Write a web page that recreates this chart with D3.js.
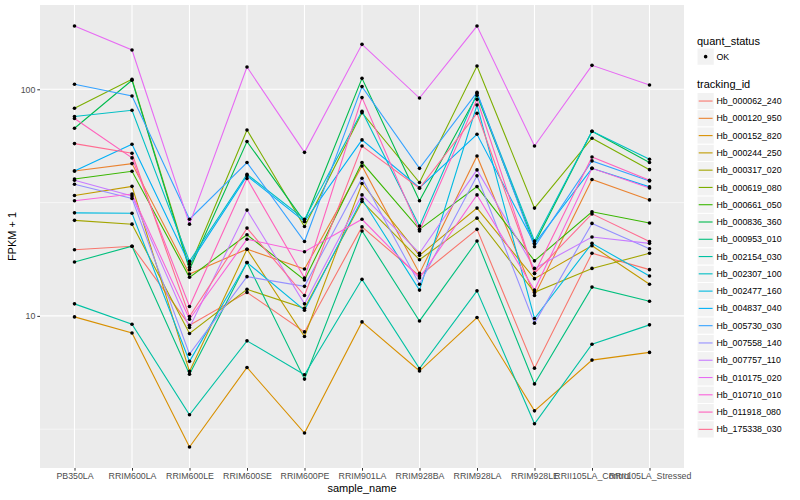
<!DOCTYPE html>
<html>
<head>
<meta charset="utf-8">
<script src="https://cdn.jsdelivr.net/npm/d3@7"></script>
<style>
  body { margin: 0; background: #fff; }
  text { font-family: "Liberation Sans", Arial, Helvetica, sans-serif; }
</style>
</head>
<body>
<svg id="chart" width="800" height="500"></svg>
<script>
// sample columns along the x axis
const samples = ['PB350LA', 'RRIM600LA', 'RRIM600LE', 'RRIM600SE', 'RRIM600PE', 'RRIM901LA',
    'RRIM928BA', 'RRIM928LA', 'RRIM928LE', 'RRII105LA_Control', 'RRII105LA_Stressed']

const trackingIds = ['Hb_000062_240', 'Hb_000120_950', 'Hb_000152_820', 'Hb_000244_250',
    'Hb_000317_020', 'Hb_000619_080', 'Hb_000661_050', 'Hb_000836_360', 'Hb_000953_010',
    'Hb_002154_030', 'Hb_002307_100', 'Hb_002477_160', 'Hb_004837_040', 'Hb_005730_030',
    'Hb_007558_140', 'Hb_007757_110', 'Hb_010175_020', 'Hb_010710_010', 'Hb_011918_080',
    'Hb_175338_030']

// FPKM + 1, one row per tracking id, one value per sample
const fpkm = [
    [19.6, 20.3, 9.10, 12.7, 8.50, 24.7, 15.0, 24.1, 5.88, 18.9, 16.0],
    [43.6, 47.0, 15.3, 19.7, 16.1, 45.9, 15.4, 50.8, 12.3, 40.0, 32.5],
    [9.90, 8.41, 2.64, 5.92, 3.04, 9.41, 5.71, 9.84, 3.81, 6.38, 6.90],
    [34.0, 37.3, 5.69, 19.7, 8.11, 38.4, 18.5, 29.9, 14.6, 20.4, 13.8],
    [26.4, 25.4, 8.36, 13.1, 10.8, 32.0, 17.7, 27.0, 12.7, 16.2, 18.9],
    [82.5, 110.7, 16.4, 66.1, 24.8, 78.9, 38.8, 126.7, 29.9, 60.8, 44.2],
    [40.2, 43.5, 14.8, 22.8, 14.4, 47.5, 24.1, 37.2, 17.5, 28.8, 25.7],
    [67.3, 109.6, 16.0, 58.8, 26.1, 111.8, 32.2, 94.1, 20.8, 65.3, 47.5],
    [17.3, 20.3, 5.53, 17.2, 5.26, 23.7, 9.50, 21.4, 5.01, 13.4, 11.6],
    [11.3, 9.19, 3.66, 7.76, 5.50, 14.5, 5.86, 12.9, 3.34, 7.50, 9.13],
    [75.8, 80.8, 17.4, 42.2, 26.7, 80.0, 24.9, 96.0, 21.4, 65.3, 49.1],
    [28.5, 28.4, 6.30, 17.2, 10.6, 32.7, 13.0, 85.2, 9.74, 20.9, 15.0],
    [43.6, 57.2, 16.9, 41.5, 26.1, 59.8, 36.8, 63.3, 20.8, 44.8, 37.1],
    [105.2, 93.4, 26.7, 47.5, 21.3, 102.8, 44.8, 97.0, 20.2, 48.3, 39.4],
    [38.1, 33.0, 6.78, 14.9, 13.5, 40.5, 13.8, 41.5, 9.29, 25.6, 19.8],
    [39.7, 33.8, 8.89, 29.3, 11.3, 34.2, 18.9, 44.1, 16.2, 22.3, 20.9],
    [190.2, 149.1, 25.4, 125.4, 52.7, 157.9, 91.5, 190.2, 56.2, 127.6, 104.5],
    [32.2, 34.5, 9.67, 21.8, 19.2, 26.7, 14.7, 34.2, 13.0, 44.8, 36.7],
    [74.3, 49.8, 11.0, 40.4, 14.7, 91.9, 23.7, 90.3, 15.4, 50.3, 39.7],
    [57.6, 52.2, 9.94, 24.4, 12.3, 56.2, 36.6, 78.4, 15.4, 28.2, 21.3]
]

const majorTicks = [10, 100]
const minorTicks = [Math.sqrt(10), Math.sqrt(1000)]
const quantStatus = ['OK']

// ggplot default hue palette for 20 levels
const hue = ['#F8766D', '#EA8331', '#D89000', '#C09B00', '#A3A500', '#7CAE00', '#39B600',
    '#00BB4E', '#00BF7D', '#00C1A3', '#00BFC4', '#00BAE0', '#00B0F6', '#35A2FF', '#9590FF',
    '#C77CFF', '#E76BF3', '#FA62DB', '#FF62BC', '#FF6C91']

const panel = { left: 40, right: 684, top: 5, bottom: 468 }
const svg = d3.select('#chart')

const colour = d3.scaleOrdinal().domain(trackingIds).range(hue)

const x = d3.scalePoint()
    .domain(samples)
    .range([panel.left, panel.right])
    .padding(0.6)

// log scale with ggplot's 5% expansion
const all = fpkm.flat()
const lo = Math.log10(d3.min(all))
const hi = Math.log10(d3.max(all))
const pad = (hi - lo) * 0.05
const y = d3.scaleLog()
    .domain([Math.pow(10, lo - pad), Math.pow(10, hi + pad)])
    .range([panel.bottom, panel.top])

svg.append('rect')
    .attr('x', panel.left)
    .attr('y', panel.top)
    .attr('width', panel.right - panel.left)
    .attr('height', panel.bottom - panel.top)
    .attr('fill', '#EBEBEB')

const grid = svg.append('g')
grid.selectAll('.minor')
    .data(minorTicks)
    .enter()
    .append('line')
    .attr('x1', panel.left)
    .attr('x2', panel.right)
    .attr('y1', d => y(d))
    .attr('y2', d => y(d))
    .attr('stroke', '#fff')
    .attr('stroke-width', 0.55)
grid.selectAll('.major')
    .data(majorTicks)
    .enter()
    .append('line')
    .attr('x1', panel.left)
    .attr('x2', panel.right)
    .attr('y1', d => y(d))
    .attr('y2', d => y(d))
    .attr('stroke', '#fff')
    .attr('stroke-width', 1.1)
grid.selectAll('.vert')
    .data(samples)
    .enter()
    .append('line')
    .attr('x1', d => x(d))
    .attr('x2', d => x(d))
    .attr('y1', panel.top)
    .attr('y2', panel.bottom)
    .attr('stroke', '#fff')
    .attr('stroke-width', 1.1)

const rows = trackingIds.map(function (id, i) {
    return { id: id, values: fpkm[i] }
})

const line = d3.line()
    .x((v, j) => x(samples[j]))
    .y(v => y(v))

svg.append('g')
    .selectAll('path')
    .data(rows)
    .enter()
    .append('path')
    .attr('d', d => line(d.values))
    .attr('fill', 'none')
    .attr('stroke', d => colour(d.id))
    .attr('stroke-width', 1.1)

const pts = []
rows.forEach(function (r) {
    r.values.forEach(function (v, j) {
        pts.push({ s: samples[j], v: v })
    })
})
svg.append('g')
    .selectAll('circle')
    .data(pts)
    .enter()
    .append('circle')
    .attr('cx', d => x(d.s))
    .attr('cy', d => y(d.v))
    .attr('r', 1.8)
    .attr('fill', '#000')

// axes
const yAxis = d3.axisLeft(y)
    .tickValues(majorTicks)
    .tickFormat(d3.format('d'))
    .tickSizeOuter(0)
    .tickSize(2.7)
    .tickPadding(2)
const gy = svg.append('g')
    .attr('transform', `translate(${panel.left},0)`)
    .call(yAxis)
gy.select('.domain').remove()
gy.selectAll('line').attr('stroke', '#333')
gy.selectAll('text')
    .attr('fill', '#4D4D4D')
    .attr('font-size', 8.8)
    .attr('font-family', '"Liberation Sans", Arial, sans-serif')

const xAxis = d3.axisBottom(x)
    .tickSizeOuter(0)
    .tickSize(2.7)
    .tickPadding(2)
const gx = svg.append('g')
    .attr('transform', `translate(0,${panel.bottom})`)
    .call(xAxis)
gx.select('.domain').remove()
gx.selectAll('line').attr('stroke', '#333')
gx.selectAll('text')
    .attr('fill', '#4D4D4D')
    .attr('font-size', 8.8)
    .attr('font-family', '"Liberation Sans", Arial, sans-serif')

svg.append('text')
    .text('sample_name')
    .attr('x', (panel.left + panel.right) / 2)
    .attr('y', 492)
    .attr('text-anchor', 'middle')
    .attr('font-size', 11)
    .attr('fill', '#000')

svg.append('text')
    .text('FPKM + 1')
    .attr('transform', `translate(16,${(panel.top + panel.bottom) / 2}) rotate(-90)`)
    .attr('text-anchor', 'middle')
    .attr('font-size', 11)
    .attr('fill', '#000')

// legends
const legend = svg.append('g').attr('transform', 'translate(697,0)')
const keySize = 17.28

legend.append('text')
    .text('quant_status')
    .attr('x', 0)
    .attr('y', 44.5)
    .attr('font-size', 11)

const ok = legend.selectAll('.ok')
    .data(quantStatus)
    .enter()
    .append('g')
    .attr('transform', (d, i) => `translate(0,${48 + i * keySize})`)
ok.append('rect')
    .attr('width', keySize)
    .attr('height', keySize)
    .attr('fill', '#F2F2F2')
    .attr('stroke', '#fff')
ok.append('circle')
    .attr('cx', keySize / 2)
    .attr('cy', keySize / 2)
    .attr('r', 1.8)
    .attr('fill', '#000')
ok.append('text')
    .text(d => d)
    .attr('x', keySize + 2.2)
    .attr('y', keySize / 2 + 3.1)
    .attr('font-size', 8.8)

legend.append('text')
    .text('tracking_id')
    .attr('x', 0)
    .attr('y', 88)
    .attr('font-size', 11)

const keys = legend.selectAll('.key')
    .data(trackingIds)
    .enter()
    .append('g')
    .attr('transform', (d, i) => `translate(0,${92.4 + i * keySize})`)
keys.append('rect')
    .attr('width', keySize)
    .attr('height', keySize)
    .attr('fill', '#F2F2F2')
    .attr('stroke', '#fff')
keys.append('line')
    .attr('x1', 1.7)
    .attr('x2', keySize - 1.7)
    .attr('y1', keySize / 2)
    .attr('y2', keySize / 2)
    .attr('stroke', d => colour(d))
    .attr('stroke-width', 1.1)
keys.append('text')
    .text(d => d)
    .attr('x', keySize + 2.2)
    .attr('y', keySize / 2 + 3.1)
    .attr('font-size', 8.8)
</script>
</body>
</html>
